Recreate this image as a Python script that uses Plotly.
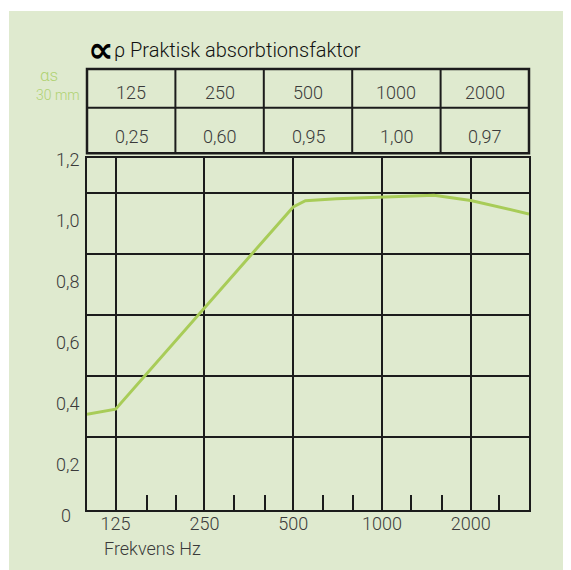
import plotly.graph_objects as go

# ---- data ----
curve_freq = [100, 125, 500, 550, 700, 1000, 1500, 2000, 3150]
curve_alpha = [0.366, 0.383, 1.045, 1.065, 1.072, 1.078, 1.083, 1.066, 1.022]

octave_freqs = [125, 250, 500, 1000, 2000]
octave_labels = ["125", "250", "500", "1000", "2000"]
third_octave_freqs = [160, 200, 315, 400, 630, 800, 1250, 1600, 2500]

table_freq_labels = ["125", "250", "500", "1000", "2000"]
table_alpha_labels = ["0,25", "0,60", "0,95", "1,00", "0,97"]

y_tick_vals = [0.2, 0.4, 0.6, 0.8, 1.0, 1.2]
y_tick_text = ["0,2", "0,4", "0,6", "0,8", "1,0", "1,2"]
y_grid_vals = [0.291, 0.491, 0.691, 0.891, 1.092]

# ---- style ----
BG = "#dfeacf"
LINE_GREEN = "#a8cc58"
TEXT_GREEN = "#b0d272"
INK = "#1c1c1c"
TXT = "#3a3a3a"
FONT = "Roboto"

OFF = 8  # page body margin
W, H = 571 - OFF, 570 - OFF
ML, MR, MT, MB = 87 - OFF, 42, 158 - OFF, 60
PW, PH = W - ML - MR, H - MT - MB


def px_x(p):
    return (p - OFF - ML) / PW


def px_y(p):
    return (H - MB - (p - OFF)) / PH


fig = go.Figure()
fig.add_trace(go.Scatter(
    x=curve_freq, y=curve_alpha, mode="lines",
    line=dict(color=LINE_GREEN, width=3), hoverinfo="skip", showlegend=False,
))

shapes = []
# green panel
shapes.append(dict(type="rect", xref="paper", yref="paper",
                   x0=px_x(9), x1=px_x(580), y0=px_y(580), y1=px_y(11),
                   fillcolor=BG, line=dict(width=0), layer="below"))
# table
t_top, t_mid, t_bot = px_y(69), px_y(107.7), px_y(153.3)
shapes.append(dict(type="rect", xref="paper", yref="paper", x0=0, x1=1,
                   y0=t_bot, y1=t_top, line=dict(color=INK, width=2.5)))
shapes.append(dict(type="line", xref="paper", yref="paper", x0=0, x1=1,
                   y0=t_mid, y1=t_mid, line=dict(color=INK, width=2)))
n = len(table_freq_labels)
for i in range(1, n):
    shapes.append(dict(type="line", xref="paper", yref="paper", x0=i / n, x1=i / n,
                       y0=t_bot, y1=t_top, line=dict(color=INK, width=2)))

annotations = []
for i, (f, a) in enumerate(zip(table_freq_labels, table_alpha_labels)):
    annotations.append(dict(x=(i + 0.5) / n, y=px_y(92.3), xref="paper", yref="paper",
                            text=f, showarrow=False, xanchor="center", yanchor="middle",
                            font=dict(family=FONT, size=18, color=TXT, weight=300)))
    annotations.append(dict(x=(i + 0.5) / n, y=px_y(136.7), xref="paper", yref="paper",
                            text=a, showarrow=False, xanchor="center", yanchor="middle",
                            font=dict(family=FONT, size=18, color=TXT, weight=300)))

# title: symbol + text
annotations.append(dict(x=px_x(86), y=px_y(49), xref="paper", yref="paper",
                        text="<b>∝</b>", showarrow=False, xanchor="left", yanchor="middle",
                        font=dict(family="DejaVu Sans", size=36, color="#000000")))
annotations.append(dict(x=px_x(112), y=px_y(50), xref="paper", yref="paper",
                        text="ρ Praktisk absorbtionsfaktor",
                        showarrow=False, xanchor="left", yanchor="middle",
                        font=dict(family=FONT, size=20, color="#111111", weight=300)))
# alpha s / 30 mm
annotations.append(dict(x=px_x(48.5), y=px_y(75), xref="paper", yref="paper",
                        text="αs", showarrow=False, xanchor="center", yanchor="middle",
                        font=dict(family=FONT, size=17, color=TEXT_GREEN, weight=300)))
annotations.append(dict(x=px_x(82), y=px_y(95), xref="paper", yref="paper",
                        text="30 mm", showarrow=False, xanchor="right", yanchor="middle",
                        font=dict(family=FONT, size=14, color=TEXT_GREEN, weight=300)))
# zero label
annotations.append(dict(x=px_x(73), y=px_y(515), xref="paper", yref="paper",
                        text="0", showarrow=False, xanchor="right", yanchor="middle",
                        font=dict(family=FONT, size=18, color=TXT, weight=300)))
# x-axis title
annotations.append(dict(x=px_x(102), y=px_y(548), xref="paper", yref="paper",
                        text="Frekvens Hz", showarrow=False, xanchor="left", yanchor="middle",
                        font=dict(family=FONT, size=18, color=TXT, weight=300)))

fig.update_layout(
    width=W, height=H,
    margin=dict(l=ML, r=MR, t=MT, b=MB, pad=0),
    paper_bgcolor="white", plot_bgcolor=BG,
    shapes=shapes, annotations=annotations,
    showlegend=False,
    font=dict(family=FONT, size=18, color=TXT, weight=300),
    xaxis=dict(
        type="log", range=[2, 3.4983],
        tickvals=octave_freqs, ticktext=octave_labels,
        showgrid=True, gridcolor=INK, gridwidth=2,
        ticks="", showline=True, mirror=True, linecolor=INK, linewidth=2,
        zeroline=False, ticklabelstandoff=-4,
        tickfont=dict(family=FONT, size=18, color=TXT, weight=300),
        minor=dict(tickvals=third_octave_freqs, ticks="inside", ticklen=15,
                   tickwidth=2, tickcolor=INK, showgrid=False),
    ),
    yaxis=dict(
        range=[0.053, 1.205],
        tickvals=y_tick_vals, ticktext=y_tick_text,
        showgrid=False, ticks="", showline=True, mirror=True,
        linecolor=INK, linewidth=2, zeroline=False,
        ticklabelstandoff=2,
        tickfont=dict(family=FONT, size=18, color=TXT, weight=300),
        minor=dict(tickvals=y_grid_vals, showgrid=True, gridcolor=INK, gridwidth=2, ticks=""),
    ),
)

fig.write_html("out.html")
